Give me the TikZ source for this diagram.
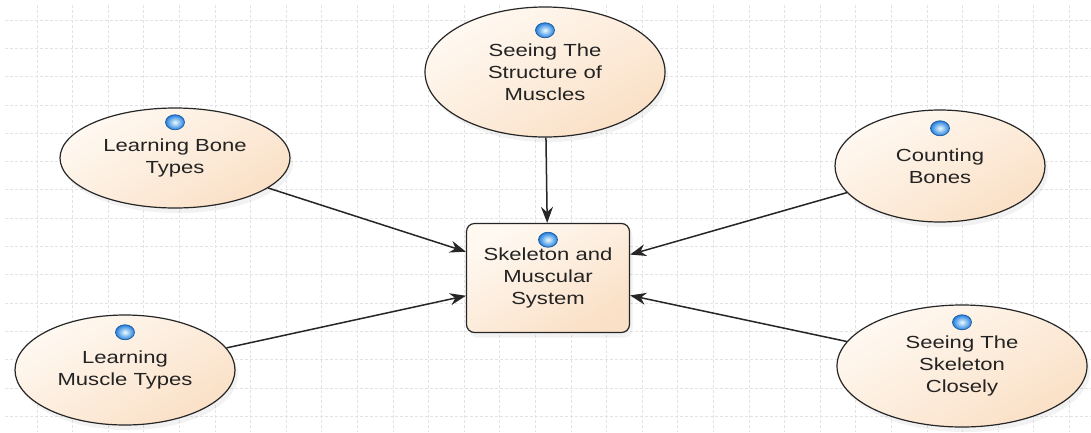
\documentclass[tikz,border=0pt]{standalone}
\usepackage{fontspec}
\newfontfamily\labelfont{Liberation Sans}[FakeStretch=1.26]
\usetikzlibrary{shapes}
\usetikzlibrary{positioning}
\usetikzlibrary{arrows.meta}
\usetikzlibrary{shadows}
\definecolor{peach}{RGB}{250,224,198}
\definecolor{peachlight}{RGB}{255,249,242}
\definecolor{bulbrim}{RGB}{35,125,222}
\definecolor{bulbcore}{RGB}{235,252,255}
\definecolor{textgray}{RGB}{35,35,35}
\tikzset{
    gridline/.style = {draw=black!11,densely dashed,line width=0.8pt},
    shadowed/.style = {drop shadow={shadow xshift=3pt,shadow yshift=-5pt,opacity=0.1}},
    topic/.style = {ellipse, draw=black!85, line width=1.2pt, inner sep=0pt, align=center,top color=peachlight,bottom color=peach,shading angle=30,text=textgray,font=\labelfont\fontsize{17.5}{22}\selectfont,shadowed},
    goal/.style = {rectangle, rounded corners=8pt, draw=black!85, line width=1.2pt, inner sep=0pt, align=center,top color=peachlight,bottom color=peach,shading angle=30,text=textgray,font=\labelfont\fontsize{17.5}{22}\selectfont,minimum width=163pt,minimum height=109pt,shadowed},
    bulb/.style = {ellipse, minimum width=19pt, minimum height=15pt, inner sep=0pt, draw=bulbrim!70!black, line width=0.7pt, inner color=bulbcore, outer color=bulbrim},
    edgen/.style = {-{Stealth[length=16pt,width=12pt]},line width=1.5pt,black!85},
}

\begin{document}
\begin{tikzpicture}[x=1pt,y=-1pt]
\path[use as bounding box,fill=white] (0,0) rectangle (1091,432);
%
\foreach \i in {0,...,29} \draw[gridline] (37+35.6*\i,5) -- (37+35.6*\i,432);
\foreach \j in {0,...,14} \draw[gridline] (5,20+28.3*\j) -- (1091,20+28.3*\j);
%
\node[goal] at (548,278) (system) {Skeleton and\\Muscular\\System};
\node[topic, minimum width=240pt, minimum height=130pt] at (545,72) (structure) {Seeing The\\Structure of\\Muscles};
\node[topic, minimum width=230pt, minimum height=100pt] at (175,158) (bonetypes) {Learning Bone\\Types};
\node[topic, minimum width=210pt, minimum height=112pt] at (940,166) (counting) {Counting\\Bones};
\node[topic, minimum width=220pt, minimum height=110pt] at (125,370) (muscletypes) {Learning\\Muscle Types};
\node[topic, minimum width=250pt, minimum height=122pt] at (962,366) (closely) {Seeing The\\Skeleton\\Closely};
%
\node[bulb, below=9pt of system.north] (systembulb) {};
\node[bulb, below=16pt of structure.north] (structurebulb) {};
\node[bulb, below=7pt of bonetypes.north] (bonetypesbulb) {};
\node[bulb, below=11pt of counting.north] (countingbulb) {};
\node[bulb, below=10pt of muscletypes.north] (muscletypesbulb) {};
\node[bulb, below=10pt of closely.north] (closelybulb) {};
%
\draw[edgen] (structure) edge (system);
\draw[edgen] (bonetypes) edge (system);
\draw[edgen] (counting) edge (system);
\draw[edgen] (muscletypes) edge (system);
\draw[edgen] (closely) edge (system);

\end{tikzpicture}
\end{document}
